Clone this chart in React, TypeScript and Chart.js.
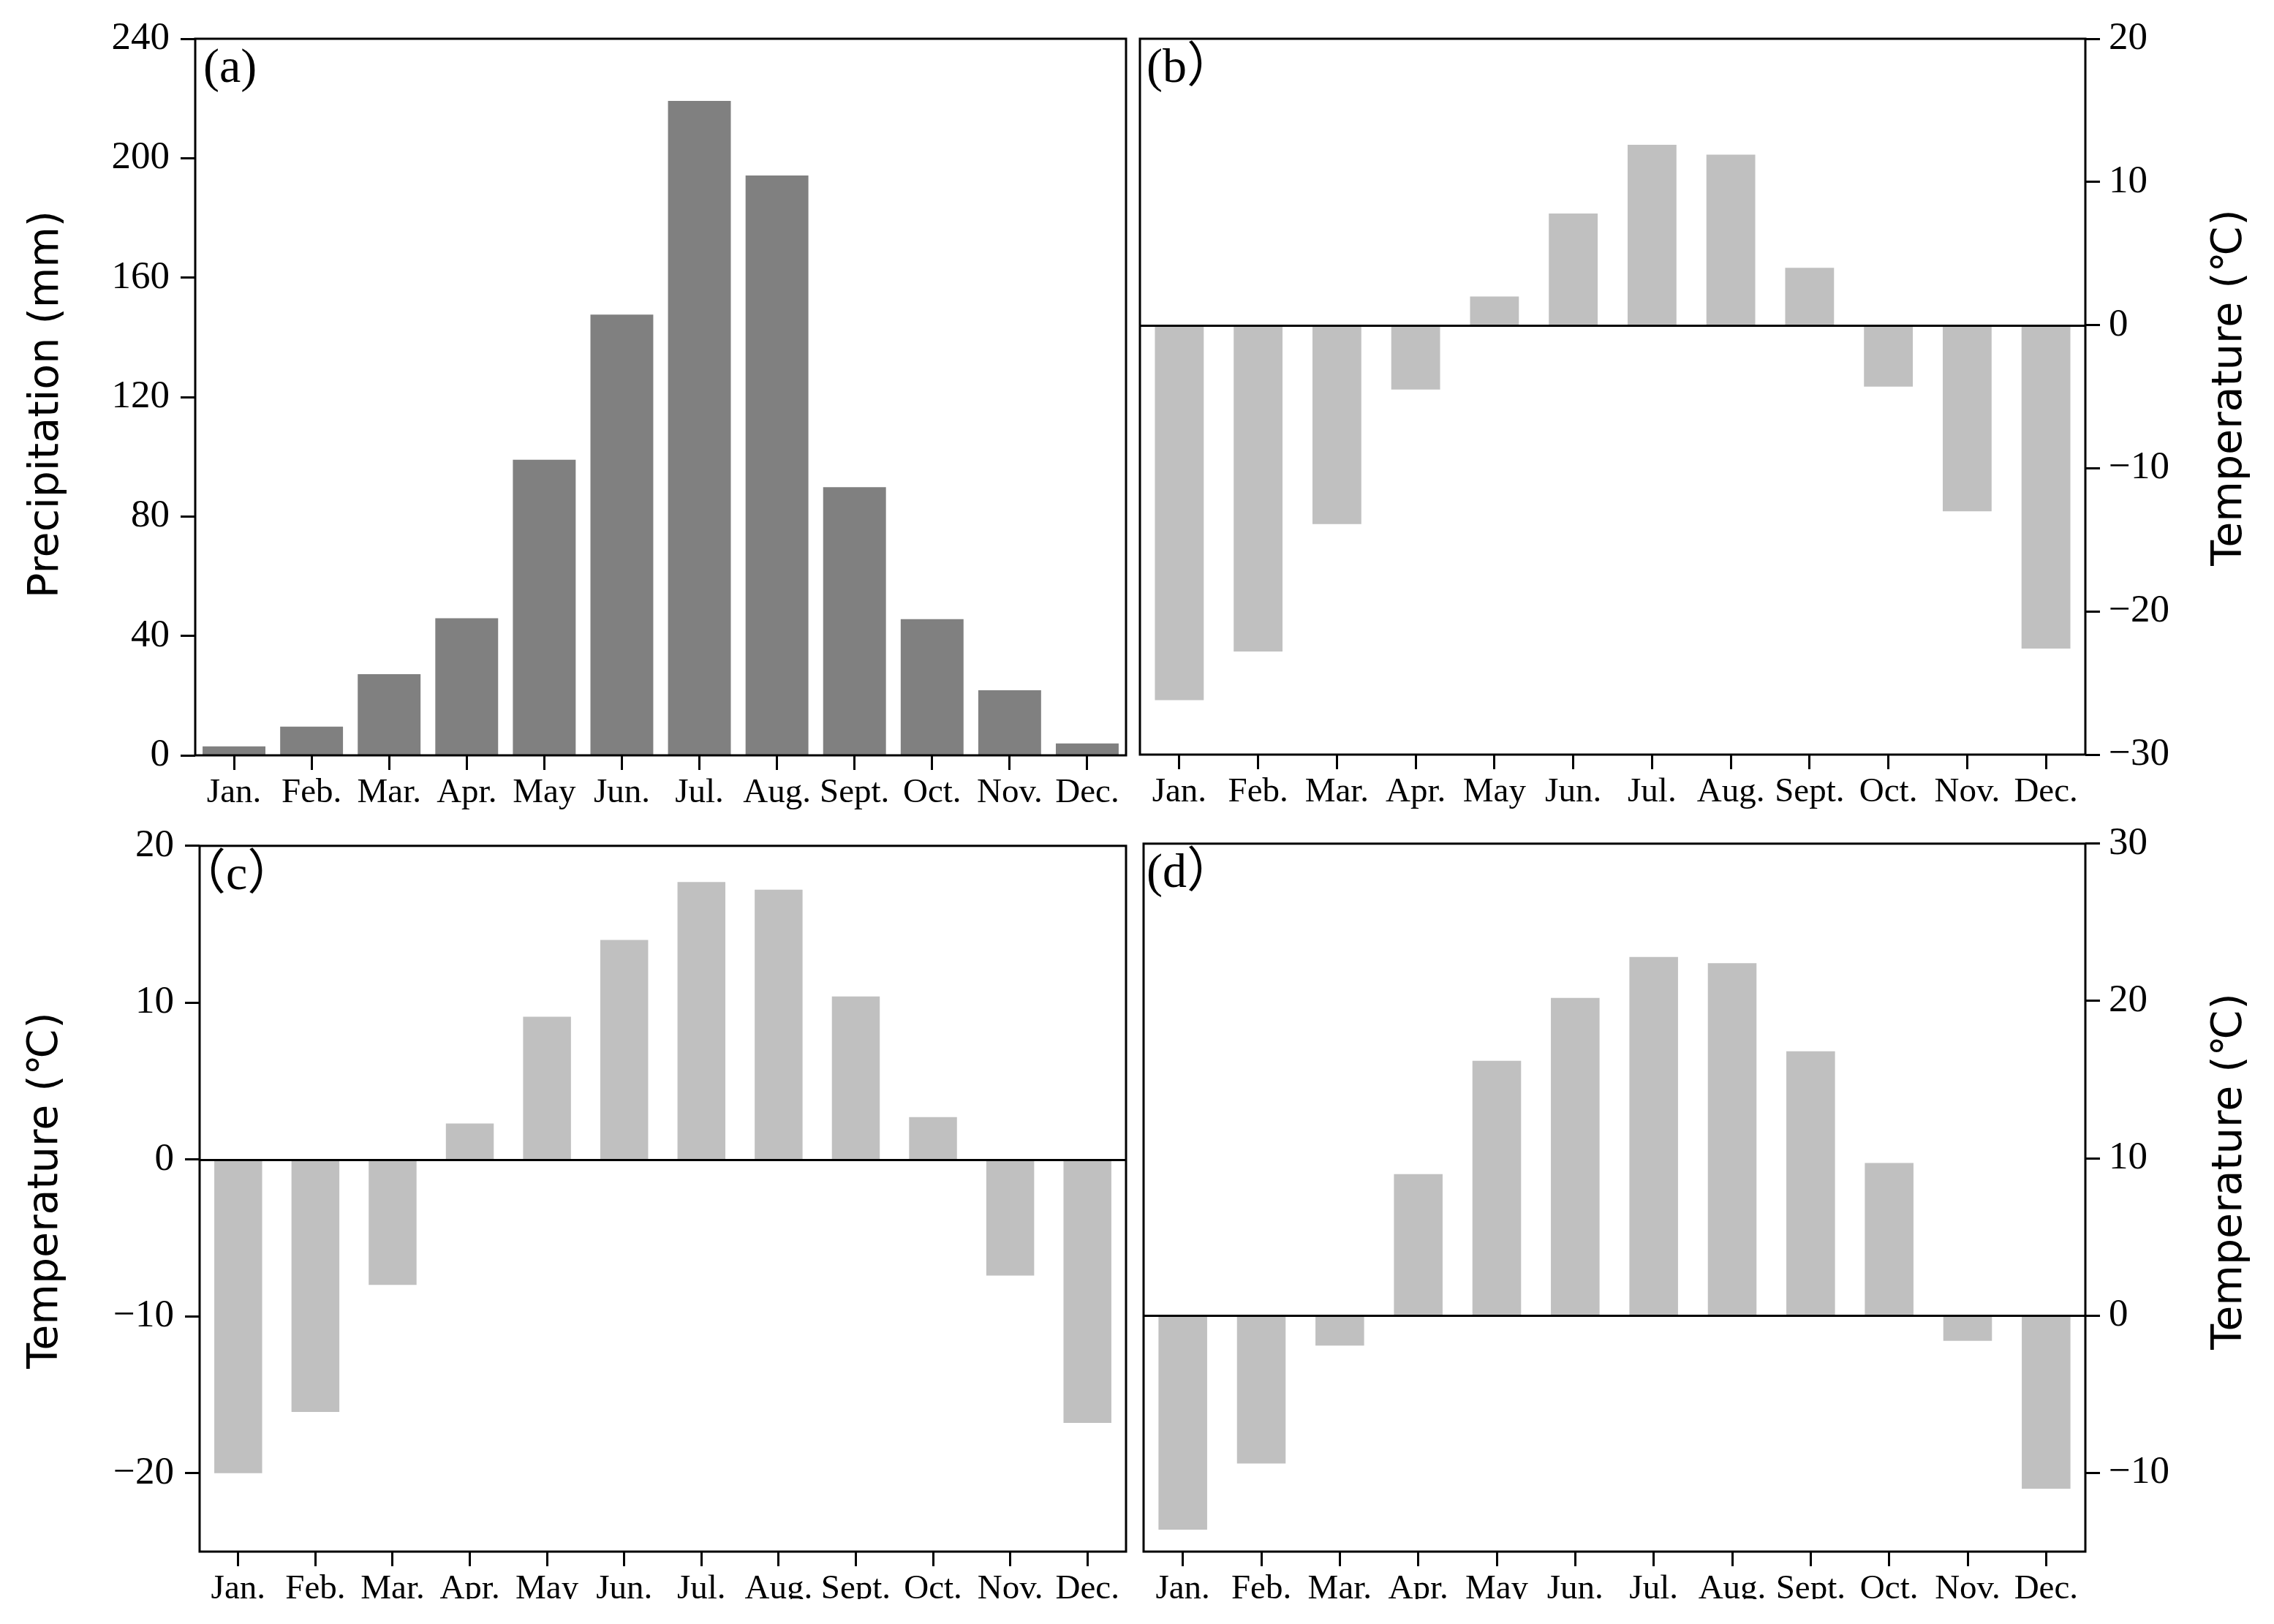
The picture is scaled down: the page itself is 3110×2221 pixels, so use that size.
import React, { useEffect, useRef } from "react";
import { Chart, registerables } from "chart.js";

Chart.register(...registerables);

// ---------------- data ----------------
const months = ["Jan.", "Feb.", "Mar.", "Apr.", "May", "Jun.", "Jul.", "Aug.", "Sept.", "Oct.", "Nov.", "Dec."];
const precipitationA = [3.0, 9.6, 27.2, 45.9, 99.0, 147.6, 219.2, 194.2, 89.8, 45.6, 21.8, 4.0];
const temperatureB = [-26.2, -22.8, -13.9, -4.5, 2.0, 7.8, 12.6, 11.9, 4.0, -4.3, -13.0, -22.6];
const temperatureC = [-20.0, -16.1, -8.0, 2.3, 9.1, 14.0, 17.7, 17.2, 10.4, 2.7, -7.4, -16.8];
const temperatureD = [-13.6, -9.4, -1.9, 9.0, 16.2, 20.2, 22.8, 22.4, 16.8, 9.7, -1.6, -11.0];

const ticksA = [0, 40, 80, 120, 160, 200, 240];
const ticksB = [-30, -20, -10, 0, 10, 20];
const ticksC = [-20, -10, 0, 10, 20];
const ticksD = [-10, 0, 10, 20, 30];

const rangeA = [0, 240];
const rangeB = [-30, 20];
const rangeC = [-25, 20];
const rangeD = [-15, 30];

const titlePrecip = "Precipitation (mm)";
const titleTemp = "Temperature (℃)";
const panelLabels = ["(a)", "(b）", "（c）", "(d）"];

// ---------------- styling / layout ----------------
const DARK = "#808080";
const LIGHT = "#c0c0c0";
const SERIF = '"Liberation Serif", "Times New Roman", "Noto Sans CJK SC", serif';
const SANS = '"DejaVu Sans", "Noto Sans CJK SC", sans-serif';

type PanelCfg = {
  data: number[];
  ticks: number[];
  range: number[];
  color: string;
  barPct: number;
  yPos: "left" | "right";
  title: string;
  label: string;
  zeroLine: boolean;
  canvas: { x: number; y: number; w: number; h: number };
  area: { l: number; r: number; t: number; b: number };
  xHeight: number;
  titleX: number;
  titleY: number;
  labelDx: number;
};

const panels: PanelCfg[] = [
  {
    data: precipitationA, ticks: ticksA, range: rangeA, color: DARK, barPct: 0.81,
    yPos: "left", title: titlePrecip, label: panelLabels[0], zeroLine: false,
    canvas: { x: 0, y: 0, w: 1550, h: 1110 },
    area: { l: 267, r: 1540, t: 53, b: 1033 },
    xHeight: 76,
    titleX: 79, titleY: 553, labelDx: 11,
  },
  {
    data: temperatureB, ticks: ticksB, range: rangeB, color: LIGHT, barPct: 0.62,
    yPos: "right", title: titleTemp, label: panelLabels[1], zeroLine: true,
    canvas: { x: 1550, y: 0, w: 1560, h: 1110 },
    area: { l: 1559, r: 2852, t: 53, b: 1032 },
    xHeight: 76,
    titleX: 3065, titleY: 530, labelDx: 9,
  },
  {
    data: temperatureC, ticks: ticksC, range: rangeC, color: LIGHT, barPct: 0.62,
    yPos: "left", title: titleTemp, label: panelLabels[2], zeroLine: true,
    canvas: { x: 0, y: 1110, w: 1550, h: 1111 },
    area: { l: 273, r: 1540, t: 1141, b: 2122 },
    xHeight: 65,
    titleX: 78, titleY: 1628, labelDx: -30,
  },
  {
    data: temperatureD, ticks: ticksD, range: rangeD, color: LIGHT, barPct: 0.62,
    yPos: "right", title: titleTemp, label: panelLabels[3], zeroLine: true,
    canvas: { x: 1550, y: 1110, w: 1560, h: 1111 },
    area: { l: 1564, r: 2852, t: 1140, b: 2122 },
    xHeight: 65,
    titleX: 3065, titleY: 1602, labelDx: 4,
  },
];

const fmt = (v: number) => (v < 0 ? "\u2212" + Math.abs(v) : String(v));

const framePlugin = {
  id: "frame",
  afterDatasetsDraw(chart: any, _args: any, opts: any) {
    const { ctx } = chart;
    const { left, right, top, bottom } = chart.chartArea;
    ctx.save();
    ctx.strokeStyle = "#000";
    ctx.lineWidth = 3;
    if (opts.zeroLine) {
      const y0 = Math.round(chart.scales.y.getPixelForValue(0)) + 0.5;
      ctx.beginPath();
      ctx.moveTo(left, y0);
      ctx.lineTo(right, y0);
      ctx.stroke();
    }
    ctx.strokeRect(left, top, right - left, bottom - top);
    // panel label
    ctx.fillStyle = "#000";
    ctx.font = `66px ${SERIF}`;
    ctx.textAlign = "left";
    ctx.textBaseline = "alphabetic";
    ctx.fillText(opts.label, left + opts.labelDx, top + 59);
    // rotated axis title
    ctx.translate(opts.titleX, opts.titleY);
    ctx.rotate(-Math.PI / 2);
    ctx.font = `57px ${SANS}`;
    ctx.textAlign = "center";
    ctx.textBaseline = "alphabetic";
    ctx.fillText(opts.title, 0, 0);
    ctx.restore();
  },
};

function Panel({ cfg }: { cfg: PanelCfg }) {
  const ref = useRef<HTMLCanvasElement>(null);
  useEffect(() => {
    const { canvas, area, xHeight } = cfg;
    const yWidth = cfg.yPos === "left" ? area.l - canvas.x : 150;
    const bottomPad = Math.max(0, canvas.y + canvas.h - area.b - xHeight);
    const padding =
      cfg.yPos === "left"
        ? { left: 0, right: canvas.x + canvas.w - area.r, top: area.t - canvas.y, bottom: bottomPad }
        : { left: area.l - canvas.x, right: canvas.x + canvas.w - area.r - yWidth, top: area.t - canvas.y, bottom: bottomPad };

    const chart = new Chart(ref.current as HTMLCanvasElement, {
      type: "bar",
      data: {
        labels: months,
        datasets: [
          {
            data: cfg.data,
            backgroundColor: cfg.color,
            borderWidth: 0,
            barPercentage: cfg.barPct,
            categoryPercentage: 1,
          },
        ],
      },
      options: {
        animation: false,
        responsive: false,
        maintainAspectRatio: false,
        devicePixelRatio: 1,
        layout: { padding },
        plugins: {
          legend: { display: false },
          tooltip: { enabled: false },
          frame: {
            zeroLine: cfg.zeroLine,
            label: cfg.label,
            labelDx: cfg.labelDx,
            title: cfg.title,
            titleX: cfg.titleX - canvas.x,
            titleY: cfg.titleY - canvas.y,
          },
        } as any,
        scales: {
          x: {
            offset: true,
            afterFit: (s: any) => {
              s.height = xHeight;
            },
            grid: {
              offset: false,
              drawOnChartArea: false,
              drawTicks: true,
              tickLength: 20,
              tickWidth: 3,
              tickColor: "#000",
            },
            border: { display: false },
            ticks: {
              font: { family: SERIF, size: 47 },
              color: "#000",
              padding: 3,
              maxRotation: 0,
              minRotation: 0,
              autoSkip: false,
            },
          },
          y: {
            position: cfg.yPos,
            min: cfg.range[0],
            max: cfg.range[1],
            afterFit: (s: any) => {
              s.width = yWidth;
            },
            afterBuildTicks: (s: any) => {
              s.ticks = cfg.ticks.map((v) => ({ value: v }));
            },
            grid: {
              drawOnChartArea: false,
              drawTicks: true,
              tickLength: 20,
              tickWidth: 3,
              tickColor: "#000",
            },
            border: { display: false },
            ticks: {
              font: { family: SERIF, size: 53 },
              color: "#000",
              padding: cfg.yPos === "left" ? 15 : 12,
              callback: (v: any) => fmt(Number(v)),
            },
          },
        },
      },
      plugins: [framePlugin as any],
    });
    return () => chart.destroy();
  }, [cfg]);

  return (
    <canvas
      ref={ref}
      width={cfg.canvas.w}
      height={cfg.canvas.h}
      style={{
        position: "absolute",
        left: cfg.canvas.x,
        top: cfg.canvas.y,
        width: cfg.canvas.w,
        height: cfg.canvas.h,
      }}
    />
  );
}

export default function App() {
  return (
    <div
      style={{
        position: "absolute",
        left: 0,
        top: 0,
        width: 3110,
        height: 2221,
        background: "#ffffff",
        overflow: "hidden",
      }}
    >
      {panels.map((p, i) => (
        <Panel key={i} cfg={p} />
      ))}
    </div>
  );
}
